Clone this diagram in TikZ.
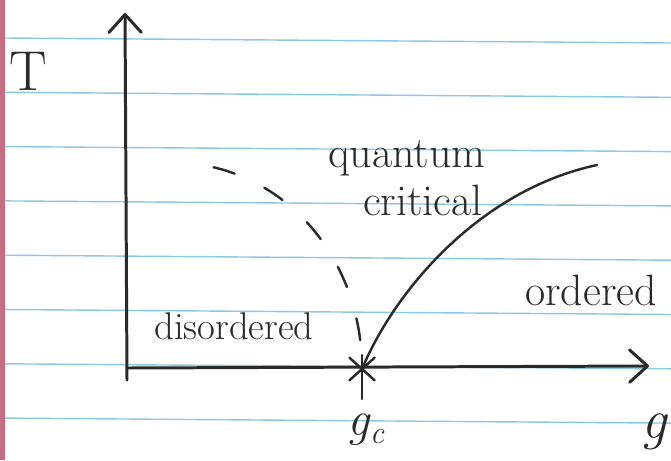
\documentclass[tikz,border=0pt]{standalone}
\usepackage{tikz}
\usetikzlibrary{arrows.meta}
\definecolor{ink}{HTML}{2A2A2A}
\definecolor{rule}{HTML}{8CC8E4}
\definecolor{margin}{HTML}{C46E84}
\tikzset{
  pen/.style={draw=ink,line width=1.4pt,line cap=round},
  axis/.style={pen,line width=1.7pt,-{Straight Barb[length=3.6mm,width=6.5mm,round]}},
  lbl/.style={text=ink,inner sep=0pt,font=\fontsize{25}{27}\selectfont},
  ruling/.style={draw=rule,line width=0.8pt}}
\newcommand{\subc}{\raisebox{-0.35ex}{\fontsize{18}{20}\selectfont\itshape c}}
\begin{document}
\begin{tikzpicture}[x=0.02cm,y=-0.02cm]
\useasboundingbox (0,0) rectangle (671,460);
\fill[white] (0,0) rectangle (671,460);
\foreach \k in {0,...,7}
  \draw[ruling] (5,38+54.3*\k) -- (671,43+54.3*\k);
\fill[margin] (0,0) rectangle (5,460);
\coordinate (ybot) at (127,380);
\coordinate (ytop) at (125,13);
\coordinate (xleft) at (127,368);
\coordinate (xright) at (649,366);
\coordinate (qcp) at (362,369);
\coordinate (tcend) at (597,165);
\coordinate (xover) at (208,166);
\draw[axis] (ybot) -- (ytop);
\draw[axis] (xleft) -- (xright);
\draw[pen] (qcp) .. controls (395,290) and (480,190) .. (tcend);
\draw[pen,dash pattern=on 12.5pt off 18.7pt,dash phase=14.7pt] (qcp) .. controls (362,270) and (300,185) .. (xover);
\foreach \a/\r/\s in {270/14/30,42/17/17,138/17/17}
  \draw[pen] ([shift={(\a:\r)}]qcp) -- ([shift={(\a+180:\s)}]qcp);
\node[lbl,font=\fontsize{32}{34}\selectfont] (Tlab) at (28,71) {T};
\node[lbl,font=\fontsize{32}{34}\selectfont\itshape] (glab) at (654,432) {g};
\node[lbl,font=\fontsize{28}{30}\selectfont\itshape] (gclab) at (366,430) {g\subc};
\node[lbl] (quantum) at (407,158) {quantum};
\node[lbl] (critical) at (423,200) {critical};
\node[lbl,font=\fontsize{22}{24}\selectfont] (disordered) at (234,326) {disordered};
\node[lbl] (ordered) at (591,290) {ordered};
\end{tikzpicture}
\end{document}
